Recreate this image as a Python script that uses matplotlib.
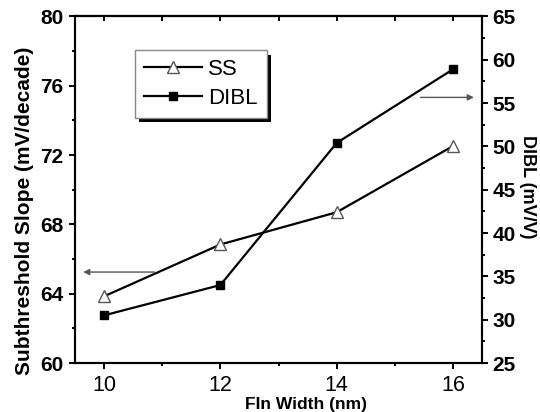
import matplotlib
matplotlib.use("Agg")
import matplotlib.pyplot as plt
from matplotlib.patches import Rectangle
from matplotlib.transforms import IdentityTransform
from matplotlib.ticker import MultipleLocator

# -----------------------------
# Data
# -----------------------------
fin_width = [10, 12, 14, 16]
ss = [63.85, 66.84, 68.70, 72.52]      # mV/decade
dibl = [30.5, 34.0, 50.4, 58.9]        # mV/V

plt.rcParams["font.family"] = ["Liberation Sans", "DejaVu Sans"]

fig = plt.figure(figsize=(5.4, 4.12), dpi=100)
ax = fig.add_axes([0.1389, 0.1189, 0.7537, 0.8411])
ax2 = ax.twinx()

# SS (left axis)
l1, = ax.plot(fin_width, ss, color="black", lw=1.6, marker="^", ms=8,
              mfc="white", mec="#555555", mew=1.0, label="SS")
# DIBL (right axis)
l2, = ax2.plot(fin_width, dibl, color="black", lw=1.6, marker="s", ms=6,
               mfc="black", mec="black", label="DIBL")

ax.set_xlim(9.5, 16.5)
ax.set_ylim(60, 80)
ax2.set_ylim(25, 65)

ax.set_xticks([10, 12, 14, 16])
ax.xaxis.set_minor_locator(MultipleLocator(1))
ax.set_yticks([60, 64, 68, 72, 76, 80])
ax.yaxis.set_minor_locator(MultipleLocator(2))
ax2.set_yticks([25, 30, 35, 40, 45, 50, 55, 60, 65])
ax2.yaxis.set_minor_locator(MultipleLocator(2.5))

for a in (ax, ax2):
    for s in a.spines.values():
        s.set_linewidth(1.5)

ax.tick_params(axis="both", which="major", direction="out", length=4.3, width=1.4)
ax.tick_params(axis="both", which="minor", direction="out", length=2.2, width=1.4)
ax.tick_params(axis="x", labelsize=15.5, pad=4.5)
ax.tick_params(axis="y", labelsize=15, pad=4)
for t in ax.get_yticklabels():
    t.set_fontweight("bold")

ax2.tick_params(axis="y", which="major", direction="out", length=4.3, width=1.4,
                labelsize=15, pad=3)
ax2.tick_params(axis="y", which="minor", direction="out", length=2.2, width=1.4)
for t in ax2.get_yticklabels():
    t.set_fontweight("bold")

# top ticks pointing inward
top = ax.secondary_xaxis("top")
top.set_xticks(range(10, 17))
top.tick_params(direction="in", length=3.5, width=1.4, labeltop=False)
top.spines["top"].set_linewidth(1.5)

# labels
ax.set_xlabel("FIn Width (nm)", fontsize=12.5, fontweight="bold")
ax.xaxis.set_label_coords(0.567, -0.097)
ax.set_ylabel("Subthreshold Slope (mV/decade)", fontsize=15, fontweight="bold",
              va="center", ha="center")
ax.yaxis.set_label_coords(-0.124, 0.44)
ax2.set_ylabel("DIBL (mV/V)", fontsize=13, fontweight="bold", rotation=270,
               va="center", ha="center")
ax2.yaxis.set_label_coords(1.112, 0.51)

# arrows
ax.annotate("", xy=(9.64, 65.25), xytext=(10.87, 65.25),
            arrowprops=dict(arrowstyle="-|>", color="#555555", lw=1.0,
                            mutation_scale=9, shrinkA=0, shrinkB=0))
ax2.annotate("", xy=(16.36, 55.66), xytext=(15.44, 55.66),
             arrowprops=dict(arrowstyle="-|>", color="#555555", lw=1.0,
                             mutation_scale=9, shrinkA=0, shrinkB=0))

# legend
leg = ax2.legend([l1, l2], ["SS", "DIBL"], loc="upper left",
                 bbox_to_anchor=(0.147, 0.903), fontsize=16, frameon=True,
                 fancybox=False, edgecolor="#888888", framealpha=1,
                 handlelength=2.6, handletextpad=0.3, borderpad=0.4,
                 labelspacing=0.35, borderaxespad=0, numpoints=1)
leg.get_frame().set_linewidth(1.0)
leg.set_zorder(10)

fig.canvas.draw()
bb = leg.get_window_extent()
shadow = Rectangle((bb.x0 + 4.5, bb.y0 - 4.5), bb.width, bb.height,
                   transform=IdentityTransform(), facecolor="black",
                   edgecolor="none", zorder=9)
ax2.add_artist(shadow)

fig.savefig("out.png", dpi=100)
